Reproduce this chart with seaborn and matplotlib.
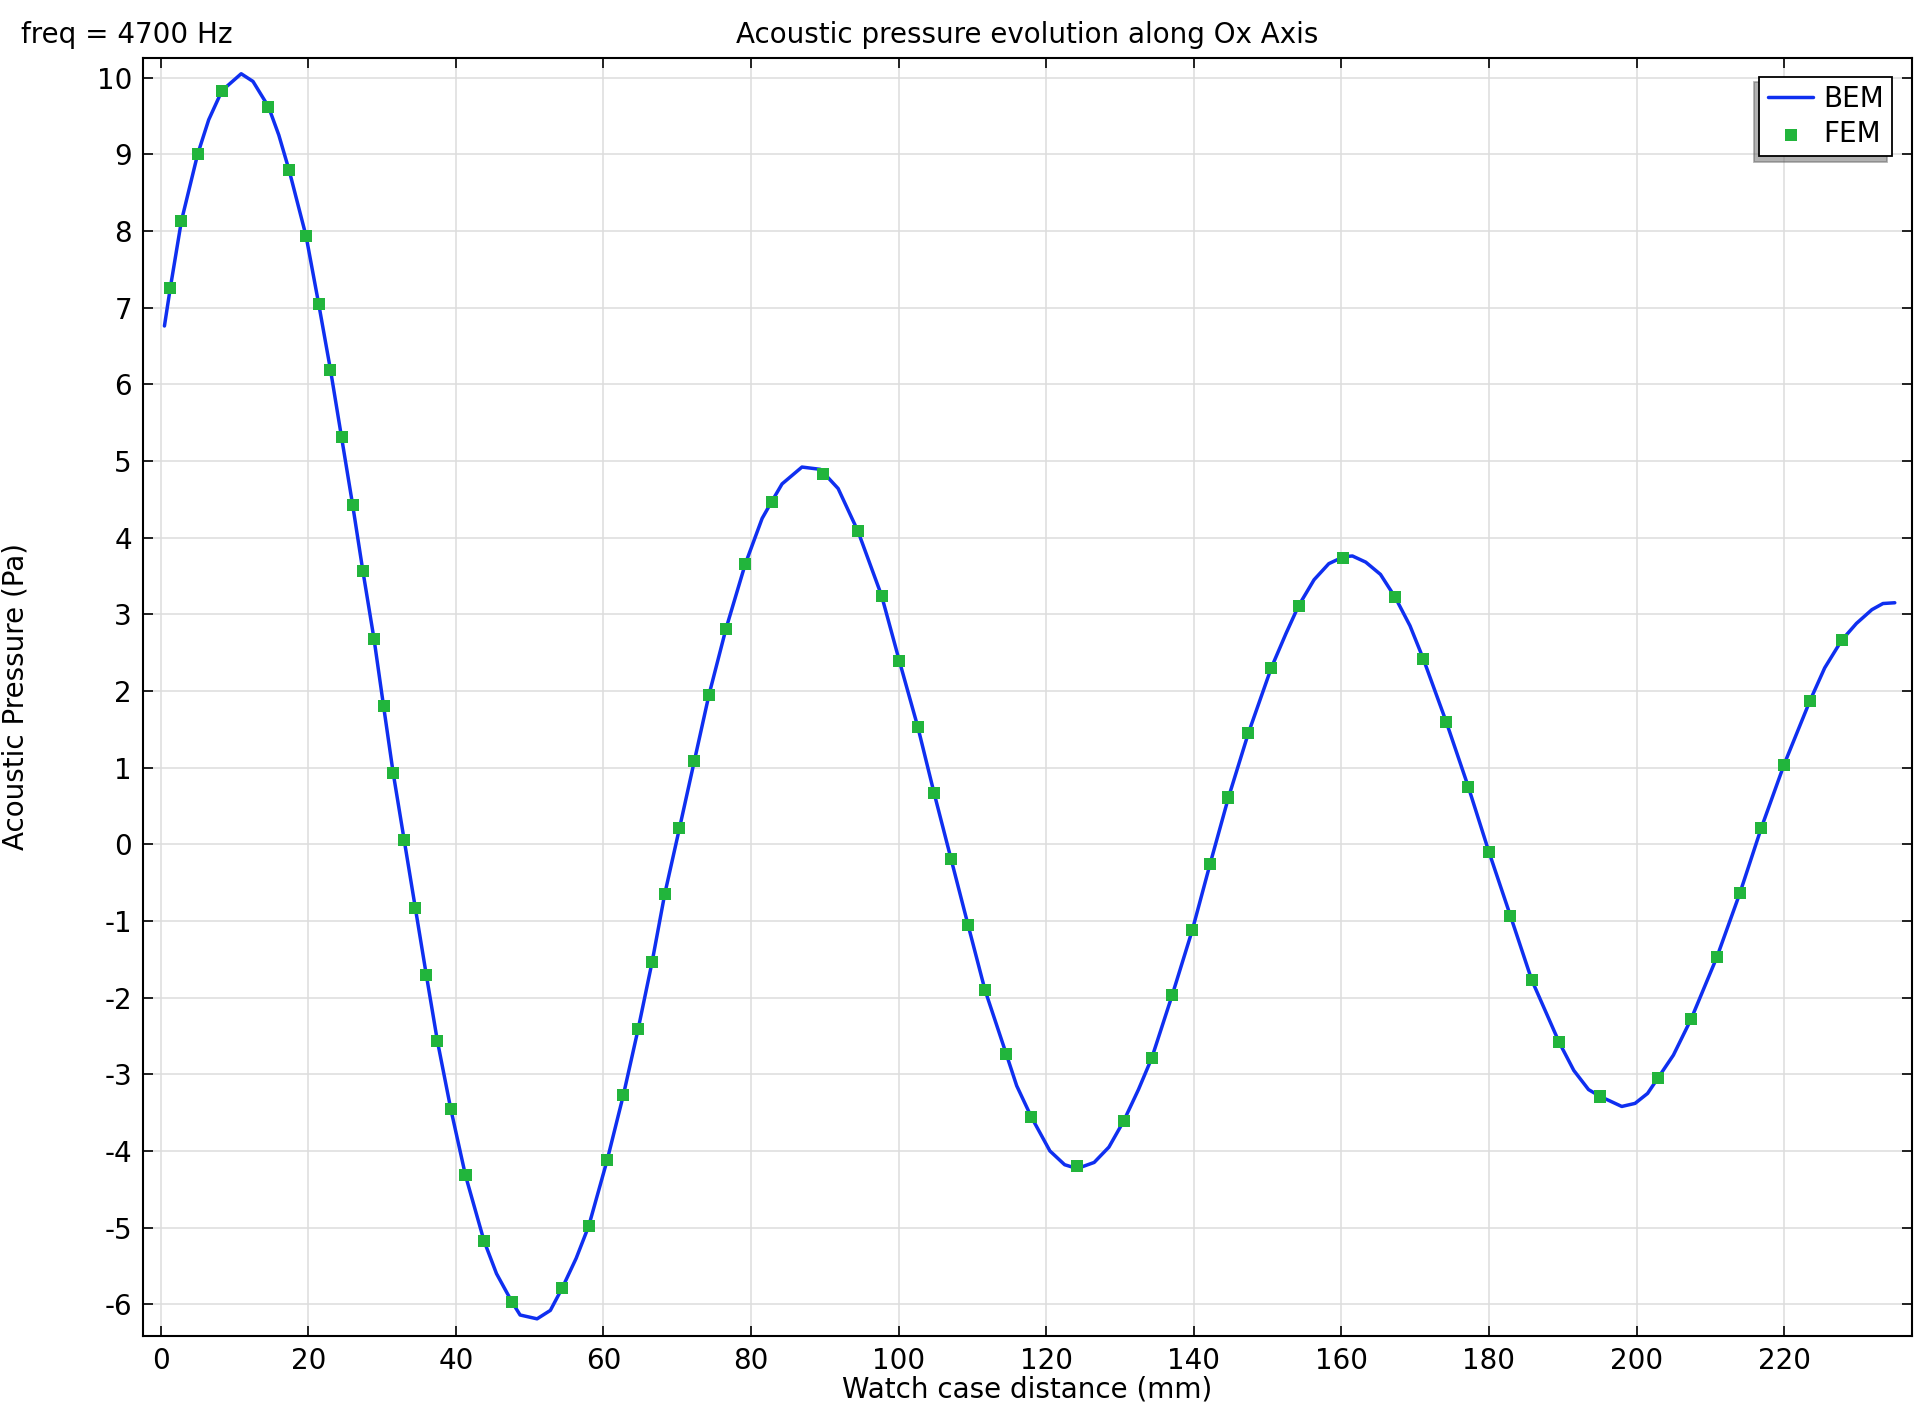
import numpy as np
import pandas as pd
import matplotlib
matplotlib.use("Agg")
import matplotlib.pyplot as plt
import seaborn as sns


# ==========================================
# DATA
# ==========================================

bem_x = [
    0.5, 1.3, 2.8, 5.0, 6.5, 8.3, 10.9, 12.5, 14.6, 16.0, 17.4, 19.7,
    21.4, 23.0, 24.5, 26.0, 27.4, 28.9, 30.2, 31.5, 33.0, 34.5, 36.0,
    37.5, 39.3, 41.3, 43.8, 45.5, 47.6, 48.7, 51.0, 52.8, 54.4, 56.3,
    58.0, 60.5, 62.7, 64.7, 66.6, 68.3, 70.3, 72.3, 74.3, 76.6, 79.2,
    81.5, 82.8, 84.2, 86.9, 89.4, 91.8, 94.5, 97.7, 100.1, 102.6, 104.8,
    107.1, 109.4, 111.7, 114.6, 116.0, 118.0, 120.5, 122.5, 124.2, 126.5,
    128.5, 130.5, 132.5, 134.3, 137.1, 139.8, 142.2, 144.7, 147.4, 150.5,
    152.5, 154.2, 156.3, 158.3, 160.3, 161.5, 163.3, 165.3, 167.3, 169.3,
    171.1, 174.2, 177.2, 180.0, 182.9, 185.8, 189.5, 191.5, 193.5, 195.1,
    198.0, 199.8, 201.5, 202.9, 205.0, 207.4, 210.9, 214.0, 216.9, 220.0,
    223.5, 225.5, 227.8, 229.8, 231.9, 233.4, 235.0,
]
bem_y = [
    6.76, 7.26, 8.13, 9.00, 9.45, 9.83, 10.05, 9.95, 9.62, 9.25, 8.79, 7.93,
    7.05, 6.19, 5.31, 4.43, 3.56, 2.68, 1.80, 0.93, 0.05, -0.83, -1.71,
    -2.57, -3.45, -4.32, -5.17, -5.60, -5.97, -6.14, -6.19, -6.08, -5.79, -5.40,
    -4.98, -4.12, -3.27, -2.41, -1.53, -0.65, 0.21, 1.08, 1.95, 2.81, 3.65,
    4.25, 4.47, 4.70, 4.92, 4.89, 4.64, 4.08, 3.24, 2.39, 1.53, 0.67,
    -0.19, -1.05, -1.90, -2.74, -3.15, -3.56, -4.00, -4.18, -4.23, -4.15,
    -3.95, -3.61, -3.20, -2.79, -1.96, -1.12, -0.26, 0.61, 1.45, 2.30,
    2.75, 3.11, 3.45, 3.66, 3.75, 3.76, 3.68, 3.52, 3.22, 2.85,
    2.42, 1.60, 0.75, -0.10, -0.93, -1.77, -2.58, -2.95, -3.20, -3.29,
    -3.42, -3.38, -3.25, -3.05, -2.75, -2.28, -1.47, -0.64, 0.21, 1.04,
    1.87, 2.30, 2.66, 2.88, 3.06, 3.14, 3.15,
]

fem_x = [
    1.3, 2.8, 5.0, 8.3, 14.6, 17.4, 19.7, 21.4, 23.0, 24.5, 26.0, 27.4,
    28.9, 30.2, 31.5, 33.0, 34.5, 36.0, 37.5, 39.3, 41.3, 43.8, 47.6,
    54.4, 58.0, 60.5, 62.7, 64.7, 66.6, 68.3, 70.3, 72.3, 74.3, 76.6,
    79.2, 82.8, 89.7, 94.5, 97.7, 100.1, 102.6, 104.8, 107.1, 109.4,
    111.7, 114.6, 118.0, 124.2, 130.5, 134.3, 137.1, 139.8, 142.2, 144.7,
    147.4, 150.5, 154.2, 160.2, 167.3, 171.1, 174.2, 177.2, 180.0, 182.9,
    185.8, 189.5, 195.1, 202.9, 207.4, 210.9, 214.0, 216.9, 220.0, 223.5,
    227.8,
]
fem_y = [
    7.26, 8.13, 9.00, 9.83, 9.62, 8.79, 7.93, 7.05, 6.19, 5.31, 4.43, 3.56,
    2.68, 1.80, 0.93, 0.05, -0.83, -1.71, -2.57, -3.45, -4.32, -5.17, -5.97,
    -5.79, -4.98, -4.12, -3.27, -2.41, -1.53, -0.65, 0.21, 1.08, 1.95, 2.81,
    3.65, 4.47, 4.83, 4.08, 3.24, 2.39, 1.53, 0.67, -0.19, -1.05,
    -1.90, -2.74, -3.56, -4.20, -3.61, -2.79, -1.96, -1.12, -0.26, 0.61,
    1.45, 2.30, 3.11, 3.73, 3.22, 2.42, 1.60, 0.75, -0.10, -0.93,
    -1.77, -2.58, -3.29, -3.05, -2.28, -1.47, -0.64, 0.21, 1.04, 1.87,
    2.66,
]

x_ticks = list(range(0, 221, 20))
y_ticks = list(range(-6, 11))

bem = pd.DataFrame({"x": bem_x, "y": bem_y})
fem = pd.DataFrame({"x": fem_x, "y": fem_y})


# ==========================================
# STYLE
# ==========================================

sns.set_theme(style="ticks")
plt.rcParams["font.family"] = ["DejaVu Sans"]
plt.rcParams["axes.unicode_minus"] = False
plt.rcParams["text.color"] = "black"
plt.rcParams["axes.labelcolor"] = "black"

fig = plt.figure(figsize=(19.2, 14.06), dpi=100)
ax = fig.add_axes([0.0745, 0.05, 0.9212, 0.909])


# ==========================================
# PLOT
# ==========================================

sns.lineplot(
    data=bem, x="x", y="y", ax=ax,
    sort=False, color="#0f2ff0", linewidth=2.5, label="BEM"
)

sns.scatterplot(
    data=fem, x="x", y="y", ax=ax,
    marker="s", s=75, color="#22b53c", edgecolor="none",
    label="FEM", zorder=3
)

ax.set_xlim(-2.4, 237.3)
ax.set_ylim(-6.41, 10.26)
ax.set_xticks(x_ticks)
ax.set_yticks(y_ticks)

ax.grid(True, color="#dddddd", linewidth=1.1)
ax.set_axisbelow(True)

for sp in ax.spines.values():
    sp.set_visible(True)
    sp.set_color("black")
    sp.set_linewidth(1.5)

ax.tick_params(
    direction="in", length=7, width=1.2, labelsize=20,
    top=True, right=True, colors="black", pad=8
)

ax.set_xlabel("Watch case distance (mm)", fontsize=20)
ax.set_ylabel("Acoustic Pressure (Pa)", fontsize=20)
ax.yaxis.set_label_coords(-0.064, 0.5)
ax.xaxis.set_label_coords(0.5, -0.031)

fig.text(0.011, 0.975, "freq = 4700 Hz", fontsize=20, va="center", ha="left")
fig.text(0.535, 0.975, "Acoustic pressure evolution along Ox Axis",
         fontsize=20, va="center", ha="center")

leg = ax.legend(
    loc="upper right", bbox_to_anchor=(0.989, 0.985),
    borderaxespad=0,
    fontsize=20, frameon=True, fancybox=False,
    edgecolor="black", framealpha=1,
    shadow={"ox": -4, "oy": -4, "color": "#666666"},
    handlelength=1.65, handletextpad=0.35, borderpad=0.3,
    labelspacing=0.25, markerscale=1.0
)
leg.get_frame().set_linewidth(1.3)

fig.savefig("out.png", dpi=100)
plt.close(fig)
